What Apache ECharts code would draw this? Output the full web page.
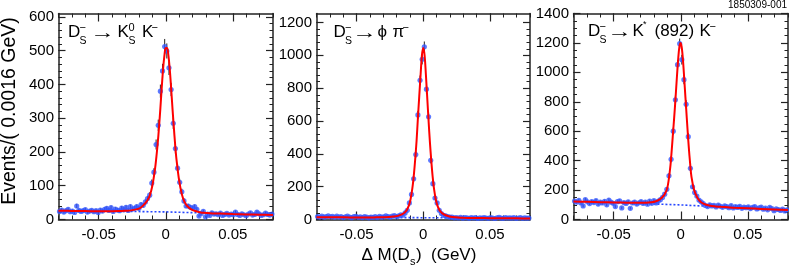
<!DOCTYPE html>
<html><head><meta charset="utf-8">
<script src="https://cdn.jsdelivr.net/npm/echarts@6/dist/echarts.min.js"></script>
<style>html,body{margin:0;padding:0;background:#fff}#c{width:789px;height:270px}</style>
</head><body><div id="c"></div>
<script>
// ---------- data ----------
const xMin = -0.08, xMax = 0.08, binWidth = 0.0016;
const xLabelTicks = [-0.05, 0, 0.05];
const yMaxes = [610, 1255, 1400];
const yLabelTicks1 = [0, 100, 200, 300, 400, 500, 600];
const yLabelTicks2 = [0, 200, 400, 600, 800, 1000, 1200];
const yLabelTicks3 = [0, 200, 400, 600, 800, 1000, 1200, 1400];
const yMinorSteps = [20, 40, 50];

// D_s -> K_S K
const counts1 = [
24, 28, 22, 26, 30, 23, 25, 21, 40, 27,
24, 26, 29, 22, 25, 27, 23, 26, 21, 28,
25, 30, 33, 27, 35, 24, 31, 28, 26, 34,
29, 36, 27, 38, 31, 34, 38, 33, 44, 42,
52, 62, 72, 108, 140, 222, 279, 380, 440, 512,
499, 449, 385, 285, 210, 152, 110, 82, 55, 40,
40, 36, 34, 38, 30, 10, 18, 24, 8, 16,
12, 20, 16, 17, 14, 19, 12, 15, 18, 13,
16, 14, 22, 15, 12, 17, 14, 11, 16, 20,
13, 15, 22, 17, 12, 14, 19, 15, 13, 16];
// D_s -> phi pi
const counts2 = [
18, 15, 20, 14, 17, 22, 16, 19, 13, 21,
15, 18, 12, 16, 20, 14, 11, 17, 19, 13,
16, 12, 18, 14, 10, 15, 13, 17, 12, 19,
14, 16, 22, 18, 15, 20, 24, 17, 22, 28,
26, 40, 56, 101, 153, 248, 396, 637, 848, 976,
1052, 794, 626, 361, 218, 131, 101, 56, 36, 26,
22, 18, 14, 15, 10, 12, 9, 13, 8, 11,
10, 7, 12, 9, 11, 6, 10, 8, 12, 9,
7, 11, 9, 6, 10, 13, 8, 7, 11, 9,
10, 8, 12, 6, 9, 11, 7, 10, 8, 9];
// D_s -> K*(892) K
const counts3 = [
125, 118, 130, 112, 92, 135, 120, 108, 122, 115,
128, 105, 118, 112, 124, 100, 132, 118, 110, 88,
121, 126, 79, 115, 109, 120, 76, 112, 118, 105,
114, 122, 109, 118, 104, 125, 110, 128, 112, 125,
135, 150, 172, 205, 297, 409, 600, 813, 1052, 1195,
1086, 950, 783, 563, 348, 222, 184, 159, 132, 120,
108, 95, 88, 100, 92, 96, 85, 98, 90, 83,
92, 87, 80, 94, 78, 88, 82, 90, 76, 85,
80, 86, 74, 83, 88, 72, 79, 85, 70, 78,
66, 82, 74, 60, 72, 68, 62, 70, 58, 66];

// fit curves
const fitX = [-0.08,-0.07,-0.06,-0.05,-0.04,-0.035,-0.03,-0.026,-0.022,-0.019,-0.016,-0.014,-0.012,-0.010,-0.008,-0.007,-0.006,-0.005,-0.004,-0.003,-0.002,-0.001,0,0.001,0.002,0.003,0.004,0.005,0.006,0.007,0.008,0.010,0.012,0.014,0.016,0.019,0.022,0.026,0.03,0.035,0.04,0.05,0.06,0.07,0.08];
const fit1 = [26,25.5,25,24.5,24.5,25,26,27,30,34, 45,55,70,100,150,185,225,275,330,390, 445,485,508,508,485,445,390,330,275,222, 178,115,75,52,40,30,25,21,19.5,18, 17.5,16,15,14,13.5];
const fit2 = [14,13.5,13,12.5,12.5,13,13.5,15,18,22, 31,42,62,105,200,275,370,480,620,750, 880,1000,1045,1000,880,740,600,470,360,265, 192,100,60,40,29,20,15,11.5,10,9.5, 9,8,7.5,7,6.5];
const fit3 = [122,120,118,116,114,113,113,114,117,122, 135,150,172,215,340,440,560,680,810,950, 1080,1175,1200,1150,1040,900,760,620,490,380, 290,200,155,128,112,100,93,89,86,83, 80,76,72,68,64];

// background components (dotted)
const bgX = [-0.08, -0.04, 0, 0.04, 0.08];
const bg1 = [26, 24.5, 22.5, 18, 13.5];
const bg2 = [14, 12.5, 11, 9, 6.5];
const bg3 = [122, 112, 99, 81, 64];

// ---------- build ----------
const nBins = counts1.length;
const centers = [];
for (let i = 0; i < nBins; i++) centers.push(+(xMin + binWidth * (i + 0.5)).toFixed(5));
const xMinor = [];
for (let k = -8; k <= 8; k++) xMinor.push(k / 100);
function minorList(max, step) { const a = []; for (let v = 0; v <= max + 1e-9; v += step) a.push(v); return a; }

const countsAll = [counts1, counts2, counts3];
const fitsAll = [fit1, fit2, fit3];
const bgAll = [bg1, bg2, bg3];
const yLabelsAll = [yLabelTicks1, yLabelTicks2, yLabelTicks3];
const grids = [
  {left: 58.5, top: 13.5, width: 214.5, height: 206},
  {left: 316.5, top: 13.5, width: 213.5, height: 206},
  {left: 573.5, top: 13.5, width: 214.5, height: 206}
];
const FONT = '"Liberation Sans", Arial, Helvetica, sans-serif';
const lineCol = '#222';

const xAxes = [], yAxes = [], series = [];
grids.forEach((g, p) => {
  const base = {type: 'value', gridIndex: p, min: xMin, max: xMax, splitLine: {show: false}};
  const lineOn = {show: true, onZero: false, lineStyle: {color: lineCol, width: 1.5}};
  const lineOff = {show: false, onZero: false};
  xAxes.push(Object.assign({}, base, {position: 'bottom', axisLine: lineOn,
    axisTick: {show: true, inside: true, length: 8, customValues: xLabelTicks, lineStyle: {color: lineCol, width: 1.2}},
    axisLabel: {show: true, customValues: xLabelTicks, fontSize: 15, fontFamily: FONT, color: '#000', margin: 7.5,
      formatter: v => String(Math.round(v * 100) / 100)}}));
  xAxes.push(Object.assign({}, base, {position: 'bottom', axisLine: lineOff,
    axisTick: {show: true, inside: true, length: 4, customValues: xMinor, lineStyle: {color: lineCol, width: 1}},
    axisLabel: {show: false}}));
  xAxes.push(Object.assign({}, base, {position: 'top', axisLine: lineOn,
    axisTick: {show: true, inside: true, length: 8, customValues: xLabelTicks, lineStyle: {color: lineCol, width: 1.2}},
    axisLabel: {show: false}}));
  xAxes.push(Object.assign({}, base, {position: 'top', axisLine: lineOff,
    axisTick: {show: true, inside: true, length: 4, customValues: xMinor, lineStyle: {color: lineCol, width: 1}},
    axisLabel: {show: false}}));

  const ybase = {type: 'value', gridIndex: p, min: 0, max: yMaxes[p], splitLine: {show: false}};
  const yMaj = yLabelsAll[p];
  const yMin = minorList(yMaj[yMaj.length - 1], yMinorSteps[p]);
  yAxes.push(Object.assign({}, ybase, {position: 'left', axisLine: lineOn,
    axisTick: {show: true, inside: true, length: 7, customValues: yMaj, lineStyle: {color: lineCol, width: 1.2}},
    axisLabel: {show: true, customValues: yMaj, fontSize: 15, fontFamily: FONT, color: '#000', margin: 4.5,
      formatter: v => String(v)}}));
  yAxes.push(Object.assign({}, ybase, {position: 'left', axisLine: lineOff,
    axisTick: {show: true, inside: true, length: 3.5, customValues: yMin, lineStyle: {color: lineCol, width: 1}},
    axisLabel: {show: false}}));
  yAxes.push(Object.assign({}, ybase, {position: 'right', axisLine: lineOn,
    axisTick: {show: true, inside: true, length: 7, customValues: yMaj, lineStyle: {color: lineCol, width: 1.2}},
    axisLabel: {show: false}}));
  yAxes.push(Object.assign({}, ybase, {position: 'right', axisLine: lineOff,
    axisTick: {show: true, inside: true, length: 3.5, customValues: yMin, lineStyle: {color: lineCol, width: 1}},
    axisLabel: {show: false}}));

  const ai = p * 4;
  const cnt = countsAll[p];
  series.push({
    type: 'custom', xAxisIndex: ai, yAxisIndex: ai, silent: true, z: 2,
    data: cnt.map((v, i) => [centers[i], v, Math.sqrt(v)]),
    renderItem: (params, api) => {
      const x = api.value(0), y = api.value(1), e = api.value(2);
      const a = api.coord([x, y - e]), b = api.coord([x, y + e]);
      return {type: 'line', shape: {x1: a[0], y1: a[1], x2: b[0], y2: b[1]}, style: {stroke: '#222', lineWidth: 1}};
    }
  });
  series.push({
    type: 'line', xAxisIndex: ai, yAxisIndex: ai, z: 3, silent: true, showSymbol: false,
    data: bgX.map((x, i) => [x, bgAll[p][i]]),
    lineStyle: {color: '#2747ff', width: 1.6, type: [2, 2]}
  });
  series.push({
    type: 'scatter', xAxisIndex: ai, yAxisIndex: ai, z: 4, silent: true,
    symbol: 'circle', symbolSize: 5.2,
    data: cnt.map((v, i) => [centers[i], v]),
    itemStyle: {color: '#3457ff'}
  });
  series.push({
    type: 'line', xAxisIndex: ai, yAxisIndex: ai, z: 5, silent: true, showSymbol: false, smooth: 0.35,
    data: fitX.map((x, i) => [x, fitsAll[p][i]]),
    lineStyle: {color: '#ff0000', width: 2}
  });
});

function T(x, y, s, size, extra, fam) {
  return Object.assign({type: 'text', x: x, y: y, silent: true, z: 100,
    style: {text: s, fill: '#000', fontSize: size, fontFamily: fam || (FONT + ', "DejaVu Sans"'),
      textAlign: 'left', textVerticalAlign: 'middle', align: 'left', verticalAlign: 'middle'}}, extra || {});
}
const ARROW = {scaleX: 1.45};
const graphics = [
  // panel 1 title
  T(68, 32, 'D', 17), T(79.5, 27.5, '\u2212', 11), T(79.5, 41.5, 'S', 10.5),
  T(90.5, 33, '\u2192', 17, ARROW), T(117.5, 32, 'K', 17), T(128.5, 28, '0', 11), T(128.5, 41.5, 'S', 10.5),
  T(142, 32, 'K', 17), T(151.5, 28, '\u2212', 11),
  // panel 2 title
  T(333.5, 32, 'D', 17), T(345, 27.5, '\u2212', 11), T(345, 41.5, 'S', 10.5),
  T(352.5, 33, '\u2192', 17, ARROW), T(377.5, 32, '\u03d5', 17), T(392.5, 32.5, '\u03c0', 17), T(402.5, 27.5, '\u2212', 11),
  // panel 3 title
  T(588, 31, 'D', 17), T(599.5, 26.5, '\u2212', 11), T(599.5, 40.5, 'S', 10.5),
  T(607.5, 32, '\u2192', 17, ARROW), T(632.5, 31, 'K', 17), T(643, 25, '*', 9),
  T(654.5, 31, '(892)', 17), T(699.5, 31, 'K', 17), T(709.5, 26.5, '\u2212', 11),
  // id tag
  T(787, 5, '1850309-001', 10, {style: {text: '1850309-001', fill: '#000', fontSize: 10, fontFamily: FONT,
    textAlign: 'right', align: 'right', textVerticalAlign: 'middle', verticalAlign: 'middle'}}),
  // x title
  T(361.5, 255.7, '\u0394 M(D', 17), T(410, 262, 's', 11), T(416, 255.7, ')', 17), T(431, 255.7, '(GeV)', 17),
  // y title
  T(9.5, 111, 'Events/( 0.0016 GeV)', 19, {rotation: Math.PI / 2,
    style: {text: 'Events/( 0.0016 GeV)', fill: '#000', fontSize: 19.5, fontFamily: FONT,
      textAlign: 'center', align: 'center', textVerticalAlign: 'middle', verticalAlign: 'middle'}})
];

const chart = echarts.init(document.getElementById('c'), null, {renderer: 'canvas'});
chart.setOption({
  animation: false,
  backgroundColor: '#fff',
  grid: grids,
  xAxis: xAxes,
  yAxis: yAxes,
  series: series,
  graphic: graphics
});
</script></body></html>
